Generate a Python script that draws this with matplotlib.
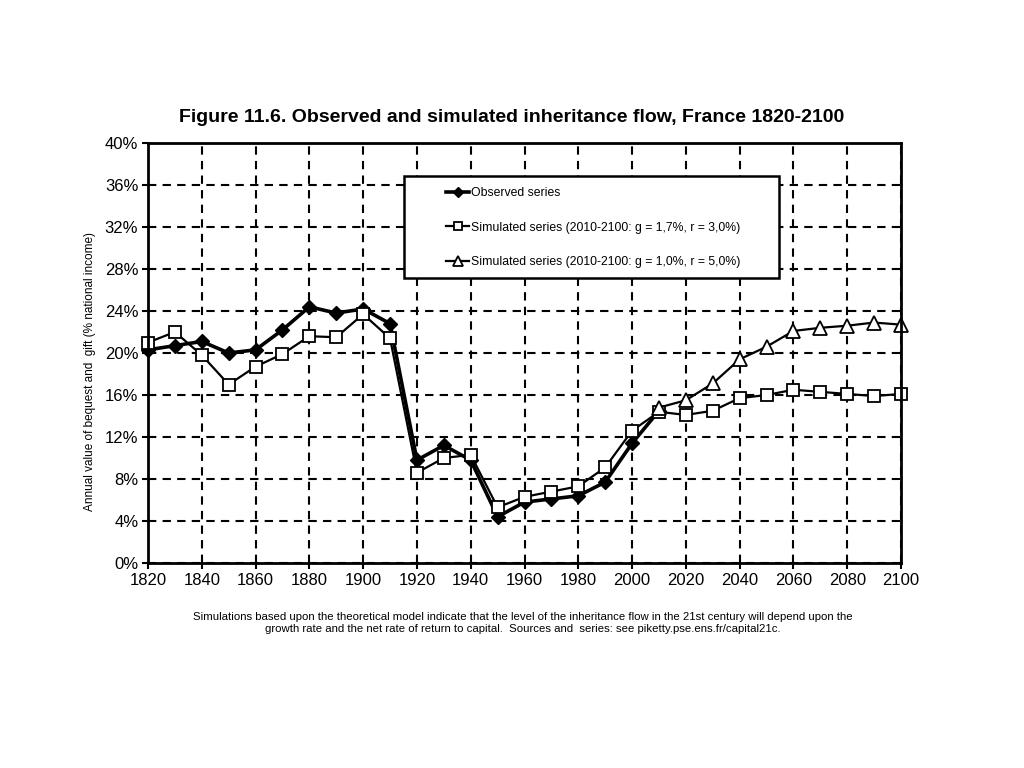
import numpy as np
import matplotlib
matplotlib.use("Agg")
import matplotlib.pyplot as plt
from matplotlib.patches import Rectangle
from matplotlib.ticker import FuncFormatter, MultipleLocator

plt.rcParams['font.family'] = ['Liberation Sans', 'DejaVu Sans']

# observed series
obs_years = [1820, 1830, 1840, 1850, 1860, 1870, 1880, 1890, 1900, 1910,
             1920, 1930, 1940, 1950, 1960, 1970, 1980, 1990, 2000, 2010]
obs_vals = [20.3, 20.7, 21.1, 20.0, 20.3, 22.2, 24.4, 23.8, 24.2, 22.8,
            9.8, 11.2, 9.8, 4.4, 5.8, 6.1, 6.4, 7.7, 11.4, 14.5]

# simulated series, g = 1.7%, r = 3.0%
sim1_years = list(range(1820, 2101, 10))
sim1_vals = [21.0, 22.0, 19.8, 17.0, 18.7, 19.9, 21.6, 21.5, 23.7, 21.4,
             8.6, 10.0, 10.3, 5.3, 6.3, 6.8, 7.3, 9.1, 12.6, 14.4,
             14.1, 14.5, 15.7, 16.0, 16.5, 16.3, 16.1, 15.9, 16.1]

# simulated series, g = 1.0%, r = 5.0%
sim2_years = list(range(2010, 2101, 10))
sim2_vals = [14.8, 15.5, 17.1, 19.4, 20.6, 22.1, 22.4, 22.6, 22.9, 22.7]

labels = ["Observed series",
          "Simulated series (2010-2100: g = 1,7%, r = 3,0%)",
          "Simulated series (2010-2100: g = 1,0%, r = 5,0%)"]

W, H = 1024, 768
fig = plt.figure(figsize=(10.24, 7.68), dpi=100)
ax = fig.add_axes([148 / W, 1 - 563 / H, (901 - 148) / W, (563 - 143) / H])

ax.plot(obs_years, obs_vals, color='black', linewidth=2.6, marker='D',
        markersize=7, markerfacecolor='black', label=labels[0], zorder=4,
        clip_on=False)
ax.plot(sim1_years, sim1_vals, color='black', linewidth=1.6, marker='s',
        markersize=9, markerfacecolor='white', markeredgewidth=1.3,
        label=labels[1], zorder=5, clip_on=False)
ax.plot(sim2_years, sim2_vals, color='black', linewidth=1.6, marker='^',
        markersize=10, markerfacecolor='white', markeredgewidth=1.3,
        label=labels[2], zorder=5, clip_on=False)

ax.set_xlim(1820, 2100)
ax.set_ylim(0, 40)
ax.xaxis.set_major_locator(MultipleLocator(20))
ax.yaxis.set_major_locator(MultipleLocator(4))
ax.yaxis.set_major_formatter(FuncFormatter(lambda v, p: "%d%%" % round(v)))
ax.grid(True, color='black', linestyle=(0, (4, 3)), linewidth=1.5)
ax.set_axisbelow(True)
for s in ax.spines.values():
    s.set_linewidth(2)
    s.set_zorder(6)
ax.tick_params(axis='both', labelsize=12, length=4, width=1.5, pad=3)

ax.set_ylabel("Annual value of bequest and  gift (% national income)",
              fontsize=8.5)
ax.yaxis.set_label_coords(-0.069, 0.457)

fig.text(0.5, 1 - 118 / H, "Figure 11.6. Observed and simulated inheritance flow, France 1820-2100",
         ha='center', va='center', fontsize=14, fontweight='bold')
fig.text(0.511, 1 - 623 / H,
         "Simulations based upon the theoretical model indicate that the level of the inheritance flow in the 21st century will depend upon the\n"
         "growth rate and the net rate of return to capital.  Sources and  series: see piketty.pse.ens.fr/capital21c.",
         ha='center', va='center', fontsize=8.2, linespacing=1.25)

# legend box
box = Rectangle((404 / W, 1 - 278 / H), (779 - 404) / W, (278 - 176) / H,
                transform=fig.transFigure, facecolor='white', edgecolor='black',
                linewidth=1.8, zorder=9, clip_on=False)
ax.add_patch(box)
leg = ax.legend(loc='upper left', bbox_to_anchor=(446 / W, 1 - 187 / H),
                bbox_transform=fig.transFigure, fontsize=8.8, frameon=False,
                labelspacing=1.85, handlelength=1.9, handletextpad=0.15,
                borderpad=0, borderaxespad=0, markerscale=0.7)
leg.set_zorder(10)

plt.savefig("out.png", dpi=100)
